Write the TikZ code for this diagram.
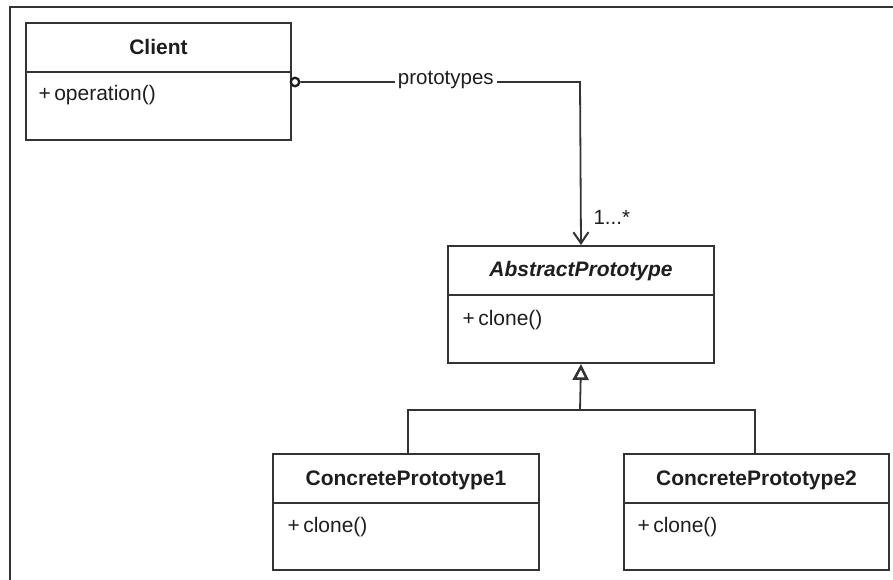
\documentclass[tikz,border=0pt]{standalone}
\usepackage{fontspec}
\setmainfont{Liberation Sans}
\usetikzlibrary{arrows.meta}
\definecolor{ink}{HTML}{333333}
\definecolor{textink}{HTML}{1E1E1E}
\tikzset{
  classbox/.style={draw=ink, line width=2pt, anchor=north west, inner sep=0pt},
  divider/.style={draw=ink, line width=1.7pt},
  classtitle/.style={font=\fontsize{21}{24}\selectfont\bfseries, text=textink, anchor=base},
  member/.style={font=\fontsize{21}{24}\selectfont, text=textink, anchor=base west},
  link/.style={draw=ink, line width=1.8pt},
  assocend/.style={circle, draw=textink, fill=white, line width=2.3pt, minimum size=8.5pt, inner sep=0pt},
  assoclabel/.style={font=\fontsize{20.5}{24}\selectfont, text=textink, fill=white, inner xsep=3pt, inner ysep=0pt, anchor=mid},
  multiplicity/.style={font=\fontsize{20.5}{24}\selectfont, text=textink, anchor=base west},
  frame/.style={draw=ink, line width=2.2pt},
}
\begin{document}
\begin{tikzpicture}[x=1pt, y=-1pt]
  \useasboundingbox[fill=white] (0,0) rectangle (893,580);
  % outer frame, open towards the right and bottom edges
  \draw[frame] (893,7) -- (10,7) -- (10,580);

  % class boxes
  \node[classbox, minimum width=265pt, minimum height=117pt] (client) at (25,22) {};
  \node[classbox, minimum width=266pt, minimum height=117pt] (abs) at (447,245) {};
  \node[classbox, minimum width=266pt, minimum height=116pt] (cp1) at (272,453) {};
  \node[classbox, minimum width=265pt, minimum height=116pt] (cp2) at (623,453) {};

  % compartment dividers
  \foreach \c in {client, abs, cp1, cp2}
    \draw[divider] ([yshift=-50pt]\c.north west) -- ([yshift=-50pt]\c.north east);

  % class names
  \node[classtitle] (clientT) at ([yshift=-33pt]client.north) {Client};
  \node[classtitle] (absT) at ([yshift=-31pt]abs.north) {\itshape AbstractPrototype};
  \node[classtitle] (cp1T) at ([yshift=-32pt]cp1.north) {ConcretePrototype1};
  \node[classtitle] (cp2T) at ([yshift=-32pt]cp2.north) {ConcretePrototype2};

  % operations
  \node[member] (clientM) at ([xshift=10pt,yshift=-79pt]client.north west) {+\,operation()};
  \node[member] (absM) at ([xshift=12pt,yshift=-80pt]abs.north west) {+\,clone()};
  \node[member] (cp1M) at ([xshift=12pt,yshift=-79pt]cp1.north west) {+\,clone()};
  \node[member] (cp2M) at ([xshift=11pt,yshift=-79pt]cp2.north west) {+\,clone()};

  % association Client -> AbstractPrototype, open circle at the client end
  \coordinate (corner) at (580,82);
  \node[assocend] (clientEnd) at (295,82) {};
  \draw[link, -{Straight Barb[length=11pt, width=15pt, line width=2pt]}]
    (clientEnd) -- node[assoclabel, pos=0.52] (protoL) {prototypes} (corner) -- (abs.north);
  \node[multiplicity] (mult) at (590,224) {1...*};

  % generalization of the concrete prototypes
  \coordinate (barL) at (408,410);
  \coordinate (barR) at (755,410);
  \coordinate (barM) at (580,410);
  \draw[link] (cp1.north -| barL) -- (barL) -- (barR) -- (cp2.north -| barR);
  \draw[link, -{Triangle[open, length=16pt, width=16pt, line width=2.6pt]}] (barM) -- (abs.south);
\end{tikzpicture}
\end{document}
